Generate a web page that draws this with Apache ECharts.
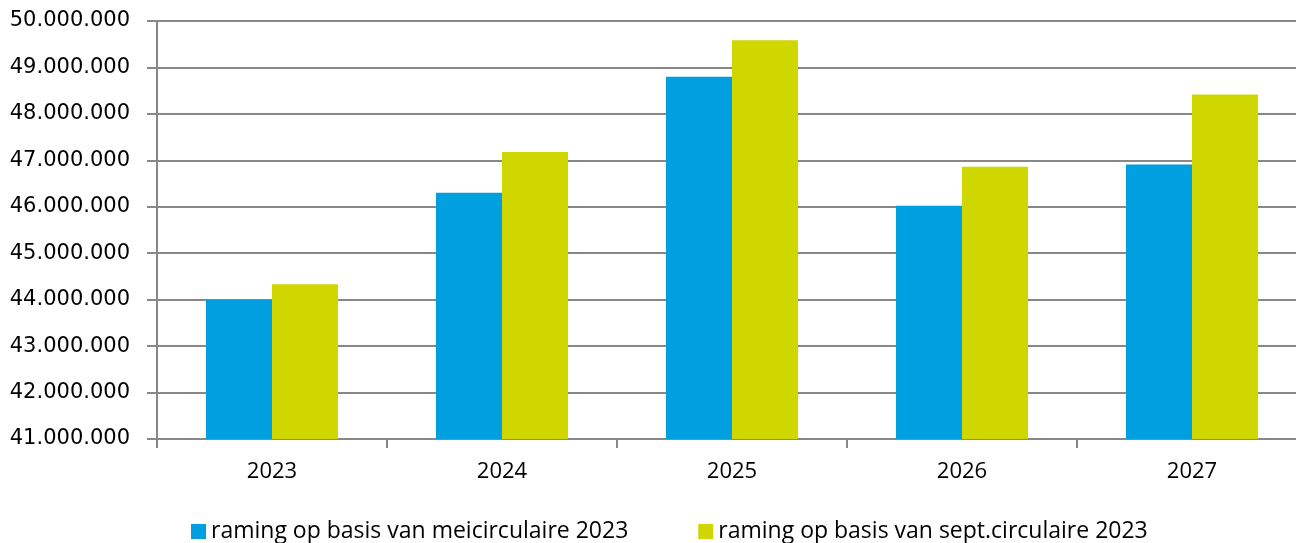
<!DOCTYPE html>
<html>
<head>
<meta charset="utf-8">
<script src="https://cdn.jsdelivr.net/npm/echarts@6/dist/echarts.min.js"></script>
<style>html,body{margin:0;padding:0;background:#fff;overflow:hidden;}#c{width:1307px;height:543px;}</style>
</head>
<body>
<div id="c"></div>
<script>
var categories = ['2023', '2024', '2025', '2026', '2027'];
var seriesNames = ['raming op basis van meicirculaire 2023', 'raming op basis van sept.circulaire 2023'];
var meiValues = [44000000, 46300000, 48800000, 46020000, 46910000];
var septValues = [44330000, 47180000, 49585000, 46860000, 48420000];

var chart = echarts.init(document.getElementById('c'));
function fmt(v) { return String(v).replace(/\B(?=(\d{3})+(?!\d))/g, '.'); }
chart.setOption({
  animation: false,
  grid: { left: 157, top: 21, right: 0, height: 418 },
  legend: {
    top: 515, left: 186,
    itemWidth: 15, itemHeight: 15, itemGap: 70,
    icon: 'rect',
    textStyle: { fontFamily: 'Open Sans', fontSize: 23, color: '#000' },
    data: seriesNames
  },
  xAxis: {
    type: 'category',
    data: categories,
    axisLine: { lineStyle: { color: '#888', width: 2 } },
    axisTick: { show: true, length: 9, lineStyle: { color: '#888', width: 2 } },
    axisLabel: { color: '#000', fontFamily: 'Open Sans', fontSize: 22, margin: 22 }
  },
  yAxis: {
    type: 'value', min: 41000000, max: 50000000, interval: 1000000,
    axisLine: { show: true, lineStyle: { color: '#888', width: 2 } },
    axisTick: { show: true, length: 10, lineStyle: { color: '#888', width: 2 } },
    splitLine: { lineStyle: { color: '#888', width: 2 } },
    axisLabel: { color: '#000', fontFamily: 'DejaVu Sans', fontSize: 21, margin: 27, formatter: fmt }
  },
  series: [
    { name: seriesNames[0], type: 'bar', data: meiValues, barGap: '0%', barCategoryGap: '42.6%',
      itemStyle: { color: '#009FDF' } },
    { name: seriesNames[1], type: 'bar', data: septValues,
      itemStyle: { color: '#CFD600' } }
  ]
});
</script>
</body>
</html>
